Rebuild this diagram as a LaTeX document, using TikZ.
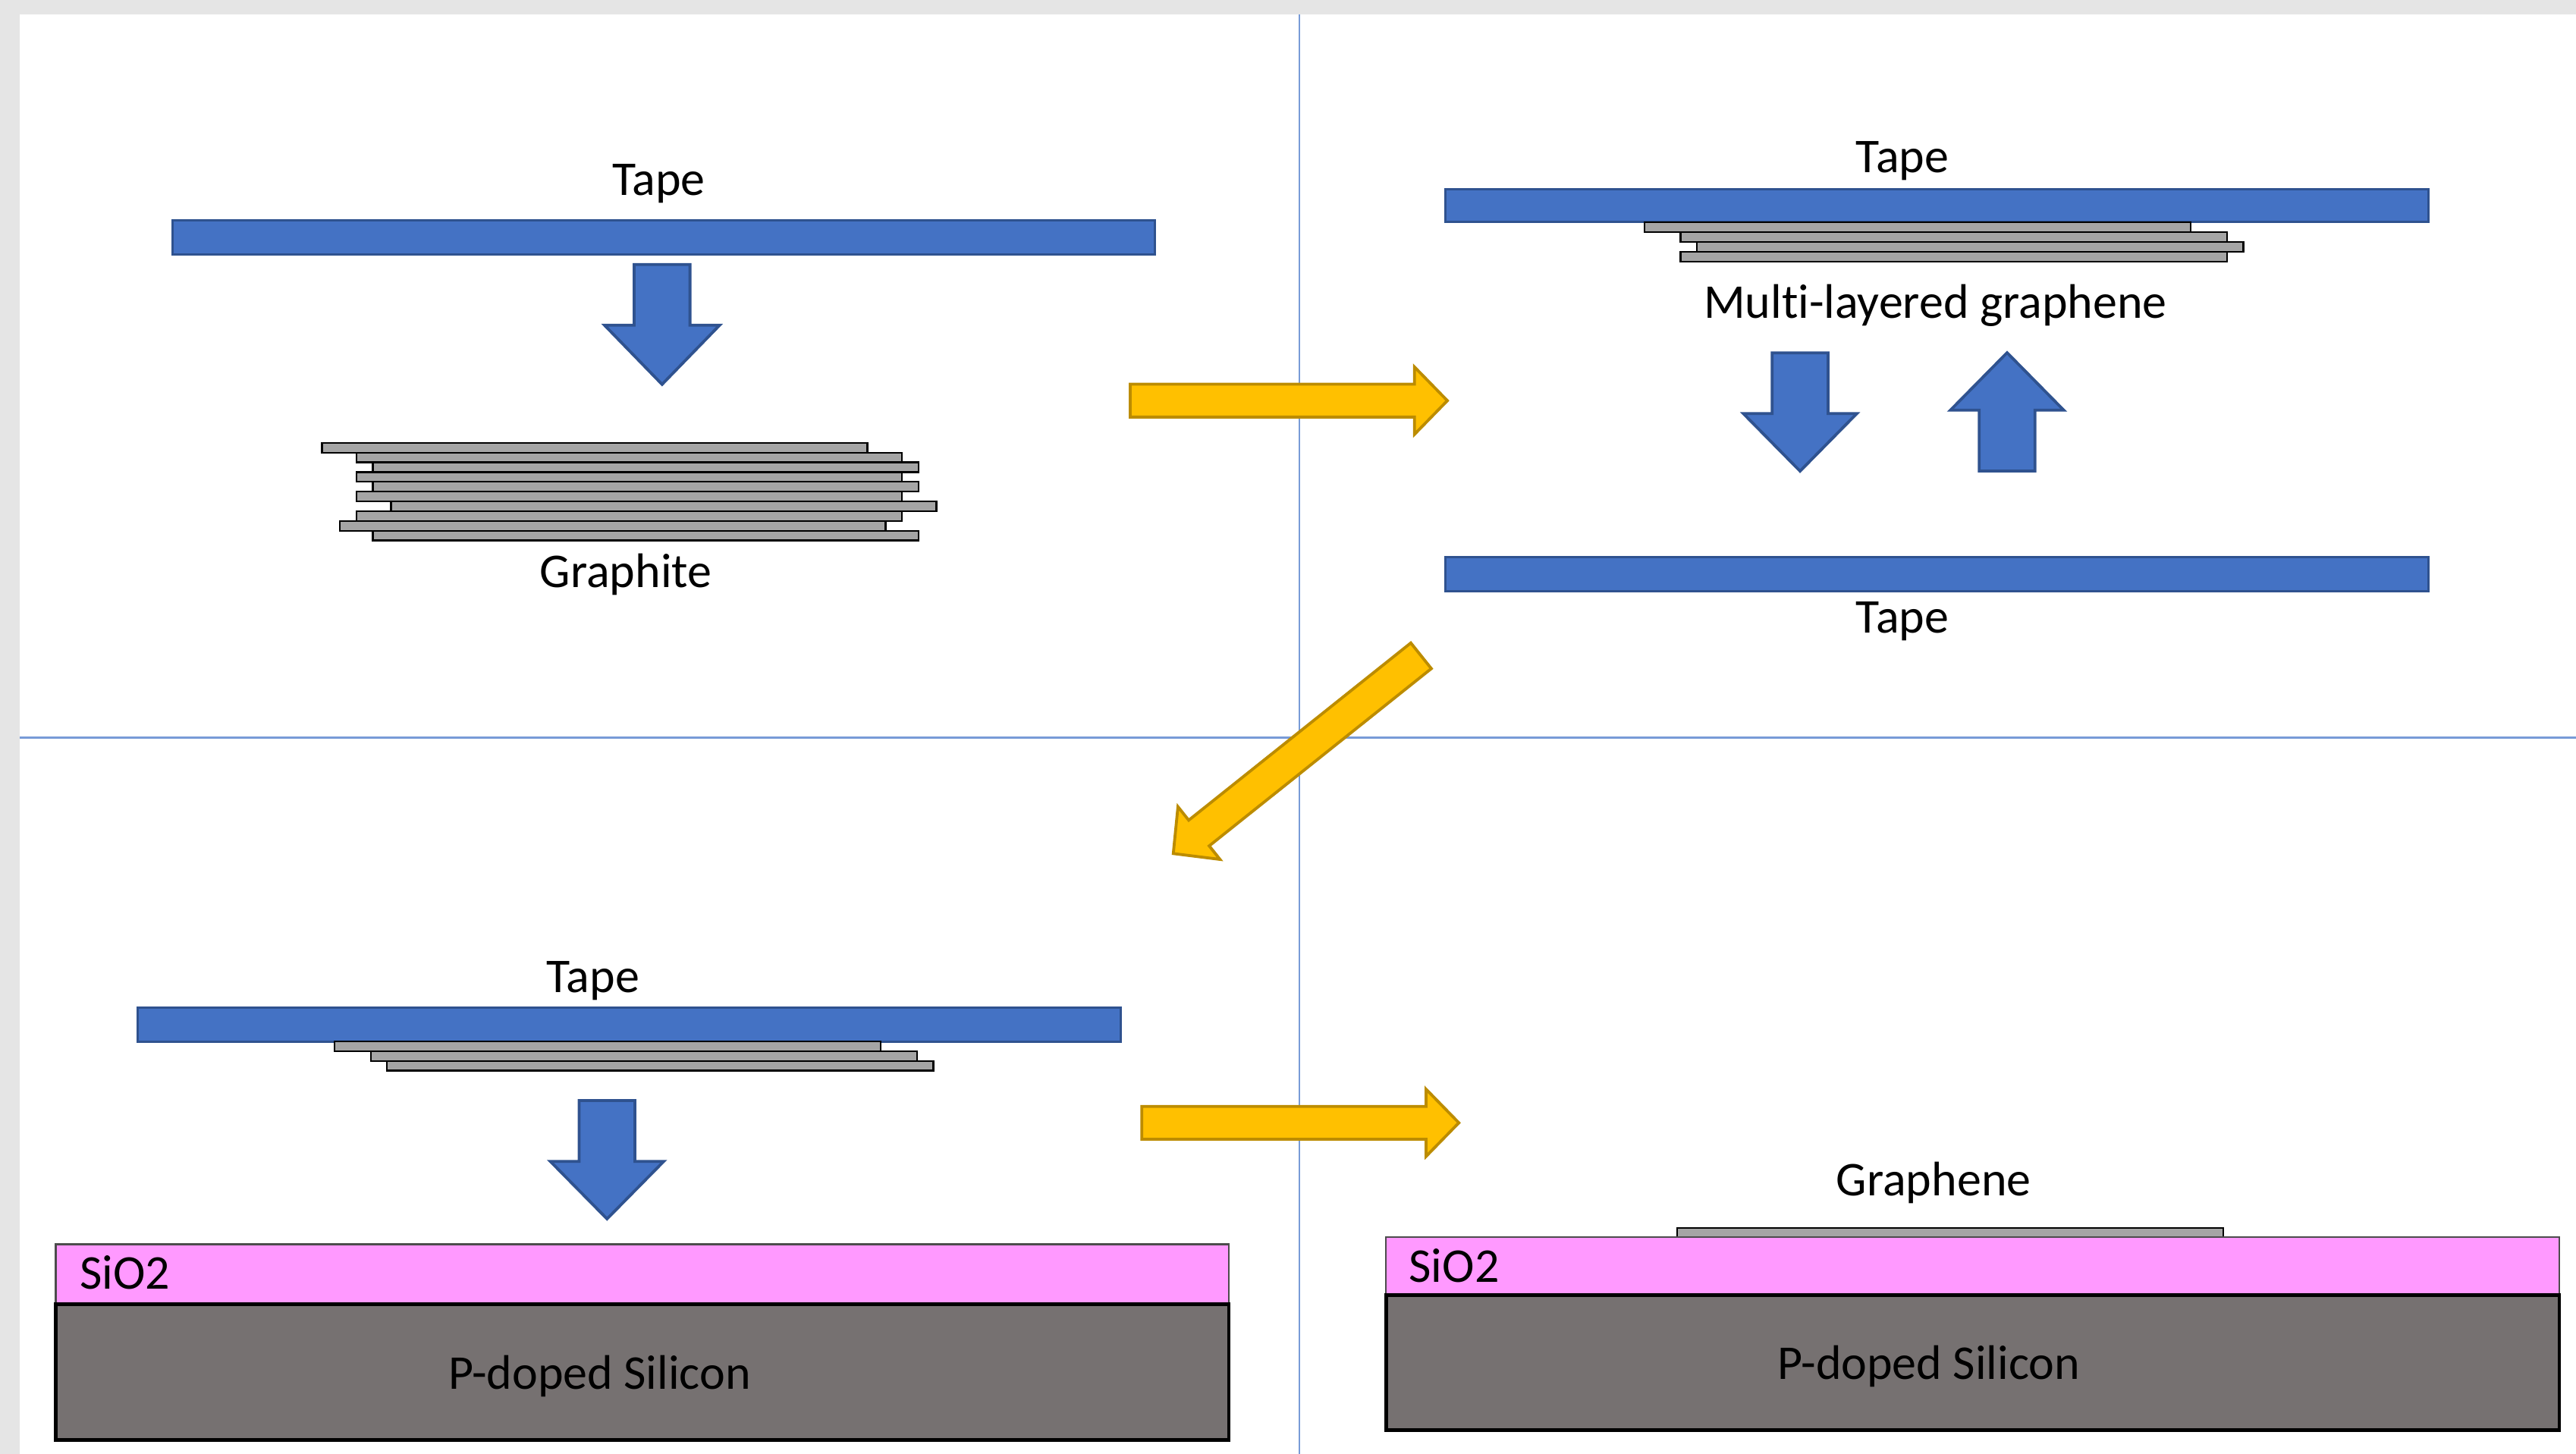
\documentclass[tikz,border=0pt]{standalone}
\usepackage{fontspec}
\setmainfont{Carlito}[Ligatures=NoCommon]
\definecolor{bggray}{RGB}{229,229,229}
\definecolor{divblue}{RGB}{120,155,215}
\definecolor{tapefill}{RGB}{68,114,196}
\definecolor{tapeedge}{RGB}{47,82,143}
\definecolor{arrowfill}{RGB}{255,192,0}
\definecolor{arrowedge}{RGB}{188,140,0}
\definecolor{layerfill}{RGB}{165,165,165}
\definecolor{oxidefill}{RGB}{255,153,255}
\definecolor{siliconfill}{RGB}{118,113,113}
\begin{document}
\begin{tikzpicture}[x=0.01cm, y=-0.01cm,
    every node/.style={font=\fontsize{8.4}{10}\selectfont, inner sep=0, anchor=base},
    divider/.style={draw=divblue, line width=0.35pt},
    tapebar/.style={fill=tapefill, draw=tapeedge, line width=0.4pt},
    layer/.style={fill=layerfill, draw=black, line width=0.3pt},
    oxide/.style={fill=oxidefill, draw=black!70, line width=0.3pt},
    silicon/.style={fill=siliconfill, draw=black, line width=0.6pt},
    bluearrow/.style={fill=tapefill, draw=tapeedge, line width=0.5pt},
    yellowarrow/.style={fill=arrowfill, draw=arrowedge, line width=0.5pt},
    pics/blockarrow/.style n args={4}{code={
      \path[pic actions] (0,-#3) -- ({#1-#2},-#3) -- ({#1-#2},-#4) -- (#1,0)
        -- ({#1-#2},#4) -- ({#1-#2},#3) -- (0,#3) -- cycle;}}]
  \useasboundingbox (0,0) rectangle (1568,885);
  \fill[bggray] (0,0) rectangle (1568,885);
  \fill[white] (12,9) rectangle (1568,885);
  \draw[divider] (791,9) -- (791,885);
  \draw[divider] (12,449) -- (1568,449);

  \node (tape1) at (401,119) {Tape};
  \draw[tapebar] (105,134) rectangle (703,155);
  \pic[bluearrow, rotate=-90] at (403,161) {blockarrow={73}{36}{17}{35}};
  \foreach \l [count=\i from 0] in {196,217,227,217,227,217,238,217,207,227}
    \draw[layer] (\l,269.6+5.94*\i) rectangle ++(332,5.94);
  \node (graphite) at (381,357.5) {Graphite};

  \node (tape2) at (1158,105) {Tape};
  \draw[tapebar] (880,115) rectangle (1478,135);
  \foreach \l [count=\i from 0] in {1001,1023,1033,1023}
    \draw[layer] (\l,135.4+6*\i) rectangle ++(332.5,6);
  \node (multi) at (1178,193.5) {Multi-layered graphene};
  \pic[bluearrow, rotate=-90] at (1095.7,214.8) {blockarrow={72}{35}{17}{34.5}};
  \pic[bluearrow, rotate=90] at (1221.7,286.7) {blockarrow={72}{35}{17}{34.5}};
  \draw[tapebar] (880,339) rectangle (1478,360);
  \node (tape3) at (1158,385.5) {Tape};

  \pic[yellowarrow] at (688,243.9) {blockarrow={193}{20}{10}{20.5}};
  \pic[yellowarrow, rotate=218.6] at (865,399.2) {blockarrow={193}{20}{10}{20.5}};
  \pic[yellowarrow] at (695,683.5) {blockarrow={193}{20}{10}{20.5}};

  \node (tape4) at (361,604) {Tape};
  \draw[tapebar] (84,613.5) rectangle (682,634);
  \foreach \l [count=\i from 0] in {203.7,225.8,235.6}
    \draw[layer] (\l,634+5.9*\i) rectangle ++(332.5,5.9);
  \pic[bluearrow, rotate=-90] at (369.5,670) {blockarrow={72}{35}{17}{34.5}};
  \draw[oxide] (34,757.5) rectangle (748,794);
  \draw[silicon] (34,794) rectangle (748,876.5);
  \node[anchor=base west] (oxide1) at (48,784.5) {SiO2};
  \node (silicon1) at (365,845.5) {P-doped Silicon};

  \node (graphene) at (1177,728) {Graphene};
  \draw[layer] (1021,747.5) rectangle (1353.4,753);
  \draw[oxide] (843.7,753) rectangle (1557.9,788.5);
  \draw[silicon] (843.7,788.5) rectangle (1557.9,870.7);
  \node[anchor=base west] (oxide2) at (857,780.5) {SiO2};
  \node (silicon2) at (1174,839.5) {P-doped Silicon};
\end{tikzpicture}
\end{document}
